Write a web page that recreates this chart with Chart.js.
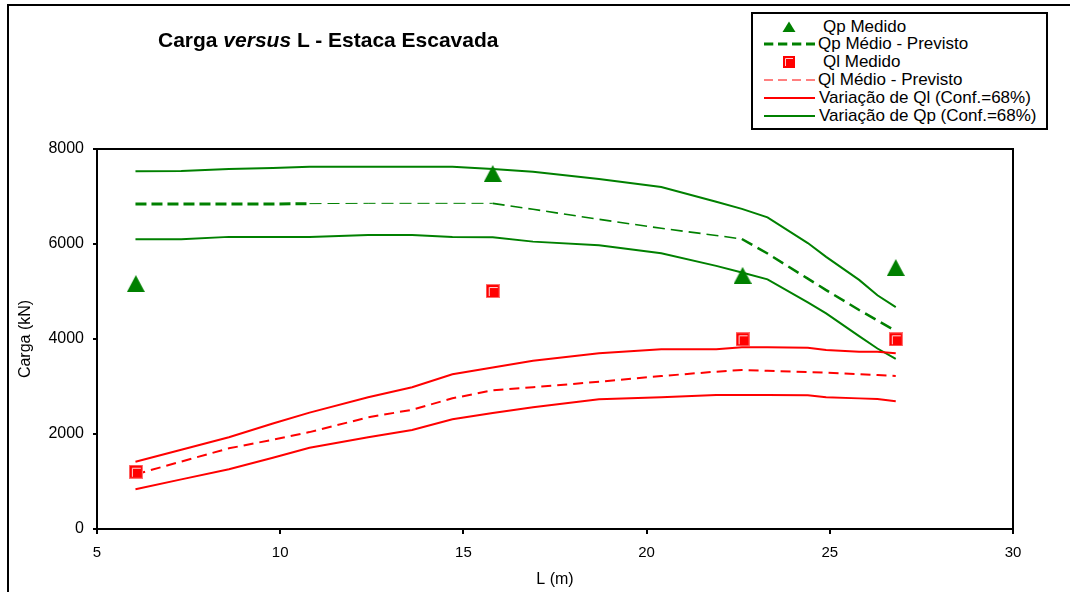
<!DOCTYPE html>
<html><head><meta charset="utf-8">
<script src="https://cdn.jsdelivr.net/npm/chart.js@4.4.1/dist/chart.umd.min.js"></script>
<style>
html,body{margin:0;padding:0;background:#fff;overflow:hidden}
#wrap{position:relative;width:1070px;height:592px;overflow:hidden;font-family:"Liberation Sans",Arial,sans-serif;color:#000}
#frame{position:absolute;left:7px;top:4px;width:1200px;height:700px;border-left:2px solid #000;border-top:2px solid #000}
#c{position:absolute;left:0;top:0}
#title{position:absolute;left:158px;top:29px;font-weight:bold;font-size:21px;line-height:21px;white-space:nowrap}
#legend{position:absolute;left:751px;top:12px;width:293px;height:114px;border:2px solid #000;background:#fff}
#lgsvg{position:absolute;left:752px;top:13px}
.lg{position:absolute;font-size:17px;line-height:18px;white-space:nowrap}
</style></head>
<body>
<div id="wrap">
<div id="frame"></div>
<canvas id="c" width="1070" height="592"></canvas>
<div id="title">Carga <i>versus</i> L - Estaca Escavada</div>
<div id="legend"></div>
<svg id="lgsvg" width="70" height="117" xmlns="http://www.w3.org/2000/svg">
  <polygon points="37,8.5 43.5,19 30.5,19" fill="#008000"/>
  <line x1="12" y1="31" x2="63" y2="31" stroke="#008000" stroke-width="3" stroke-dasharray="9.3 4.7"/>
  <rect x="31" y="43" width="12" height="12" fill="#ff0000"/>
  <polyline points="33.5,53 33.5,45.5 41,45.5" fill="none" stroke="#ffd0d0" stroke-width="1"/>
  <line x1="12" y1="67" x2="63" y2="67" stroke="#ff0000" stroke-width="1" stroke-dasharray="9 5"/>
  <line x1="12" y1="85" x2="63" y2="85" stroke="#ff0000" stroke-width="2"/>
  <line x1="12" y1="103" x2="63" y2="103" stroke="#008000" stroke-width="2"/>
</svg>
<div class="lg" style="left:823px;top:18px">Qp Medido</div>
<div class="lg" style="left:818px;top:35px">Qp Médio - Previsto</div>
<div class="lg" style="left:823px;top:53px">Ql Medido</div>
<div class="lg" style="left:818px;top:71px">Ql Médio - Previsto</div>
<div class="lg" style="left:819px;top:89px">Variação de Ql (Conf.=68%)</div>
<div class="lg" style="left:819px;top:107px">Variação de Qp (Conf.=68%)</div>
</div>
<script>
// ---- data ----
const L      = [6.05, 7.3, 8.6, 9.8, 10.8, 12.4, 13.6, 14.7, 15.8, 16.9, 18.7, 20.4, 21.9, 22.6, 23.3, 24.4, 24.9, 25.8, 26.3, 26.8];
const qpSup  = [7530, 7537, 7580, 7600, 7625, 7628, 7628, 7628, 7580, 7520, 7370, 7200, 6890, 6740, 6560, 6020, 5730, 5245, 4920, 4670];
const qpInf  = [6098, 6098, 6150, 6150, 6145, 6189, 6189, 6145, 6140, 6050, 5975, 5805, 5540, 5400, 5256, 4770, 4540, 4060, 3800, 3580];
const qpMed  = [6842, 6842, 6842, 6842, 6850, 6856, 6856, 6856, 6856, 6730, 6520, 6330, 6180, 6105, 5800, 5270, 5030, 4610, 4390, 4170];
const qlSup  = [1417, 1670, 1930, 2220, 2450, 2772, 2983, 3256, 3400, 3540, 3698, 3783, 3783, 3825, 3825, 3818, 3768, 3733, 3733, 3698];
const qlInf  = [836, 1045, 1257, 1500, 1710, 1930, 2084, 2309, 2440, 2565, 2730, 2772, 2821, 2821, 2821, 2814, 2772, 2750, 2737, 2688];
const qlMed  = [1150, 1420, 1698, 1880, 2040, 2351, 2510, 2751, 2920, 2985, 3100, 3221, 3312, 3347, 3330, 3305, 3291, 3260, 3240, 3221];
const medL     = [6.06, 15.8, 22.62, 26.8];
const qpMedido = [5166, 7484, 5340, 5505];
const qlMedido = [1206, 5010, 3994, 3994];
const xTicks = [5, 10, 15, 20, 25, 30];
const yTicks = [0, 2000, 4000, 6000, 8000];

const GREEN = '#008000', RED = '#ff0000';
const FAM = '"Liberation Sans", Arial, sans-serif';
const pts = (xs, ys) => xs.map((x, i) => ({x: x, y: ys[i]}));

// marker images
const tri = document.createElement('canvas'); tri.width = 18; tri.height = 17;
(function(){ const g = tri.getContext('2d'); g.fillStyle = GREEN; g.beginPath(); g.moveTo(9,0); g.lineTo(18,17); g.lineTo(0,17); g.closePath(); g.fill(); })();
const sq = document.createElement('canvas'); sq.width = 14; sq.height = 14;
(function(){ const g = sq.getContext('2d'); g.fillStyle = RED; g.fillRect(0,0,14,14);
  g.strokeStyle = '#ff7070'; g.lineWidth = 1; g.strokeRect(0.5,0.5,13,13);
  g.strokeStyle = '#ffd8d8'; g.beginPath(); g.moveTo(3.5,12); g.lineTo(3.5,3.5); g.lineTo(12,3.5); g.stroke(); })();

const plotFrame = {
  id: 'plotFrame',
  beforeDatasetsDraw(chart) {
    const {ctx, chartArea: a} = chart;
    ctx.save(); ctx.strokeStyle = '#000'; ctx.lineWidth = 2;
    ctx.beginPath(); ctx.moveTo(a.left, a.top); ctx.lineTo(a.right, a.top); ctx.lineTo(a.right, a.bottom); ctx.stroke();
    ctx.restore();
  }
};

const lineDs = (label, ys, color, extra) => Object.assign({
  label: label, data: pts(L, ys), showLine: true, borderColor: color, backgroundColor: color,
  borderWidth: 2, pointRadius: 0, tension: 0, fill: false
}, extra || {});

new Chart(document.getElementById('c'), {
  type: 'scatter',
  data: { datasets: [
    { label: 'Qp Medido', data: pts(medL, qpMedido), pointStyle: tri, pointRadius: 9, showLine: false },
    { label: 'Ql Medido', data: pts(medL, qlMedido), pointStyle: sq, pointRadius: 9, showLine: false },
    lineDs('Qp Médio - Previsto', qpMed, GREEN, {
      segment: {
        borderWidth: c => { const x = c.p0.parsed.x; return x < 10.7 ? 3 : (x < 15.7 ? 1 : (x < 22.5 ? 1.6 : 2.5)); },
        borderDash: c => { const x = c.p0.parsed.x; return x < 10.7 ? [11, 5] : [12, 6]; }
      }
    }),
    lineDs('Ql Médio - Previsto', qlMed, RED, { borderWidth: 2, borderDash: [10, 6] }),
    lineDs('Variação de Ql (Conf.=68%)', qlSup, RED),
    lineDs('Variação de Ql inf', qlInf, RED),
    lineDs('Variação de Qp (Conf.=68%)', qpSup, GREEN),
    lineDs('Variação de Qp inf', qpInf, GREEN)
  ]},
  options: {
    responsive: false, animation: false, events: [],
    layout: { padding: { left: 0, right: 57, top: 149, bottom: 0 } },
    plugins: { legend: { display: false }, title: { display: false }, tooltip: { enabled: false } },
    scales: {
      x: {
        type: 'linear', min: 5, max: 30,
        afterBuildTicks: s => { s.ticks = xTicks.map(v => ({value: v})); },
        afterFit: s => { s.height = 63; },
        ticks: { color: '#000', font: { family: FAM, size: 15 }, padding: 10, maxRotation: 0, autoSkip: false, callback: v => String(v) },
        grid: { display: true, drawOnChartArea: false, drawTicks: true, tickLength: 5, color: '#000', lineWidth: 2 },
        border: { display: true, color: '#000', width: 2 },
        title: { display: true, text: 'L (m)', color: '#000', font: { family: FAM, size: 16 }, padding: { top: 0, bottom: 3 } }
      },
      y: {
        type: 'linear', min: 0, max: 8000,
        afterBuildTicks: s => { s.ticks = yTicks.map(v => ({value: v})); },
        afterFit: s => { s.width = 97; },
        ticks: { color: '#000', font: { family: FAM, size: 16 }, padding: 9, callback: v => String(v) },
        grid: { display: true, drawOnChartArea: false, drawTicks: true, tickLength: 4, color: '#000', lineWidth: 2 },
        border: { display: true, color: '#000', width: 2 },
        title: { display: true, text: 'Carga (kN)', color: '#000', font: { family: FAM, size: 16 }, padding: { top: 16, bottom: 0 } }
      }
    }
  },
  plugins: [plotFrame]
});
</script>
</body></html>
